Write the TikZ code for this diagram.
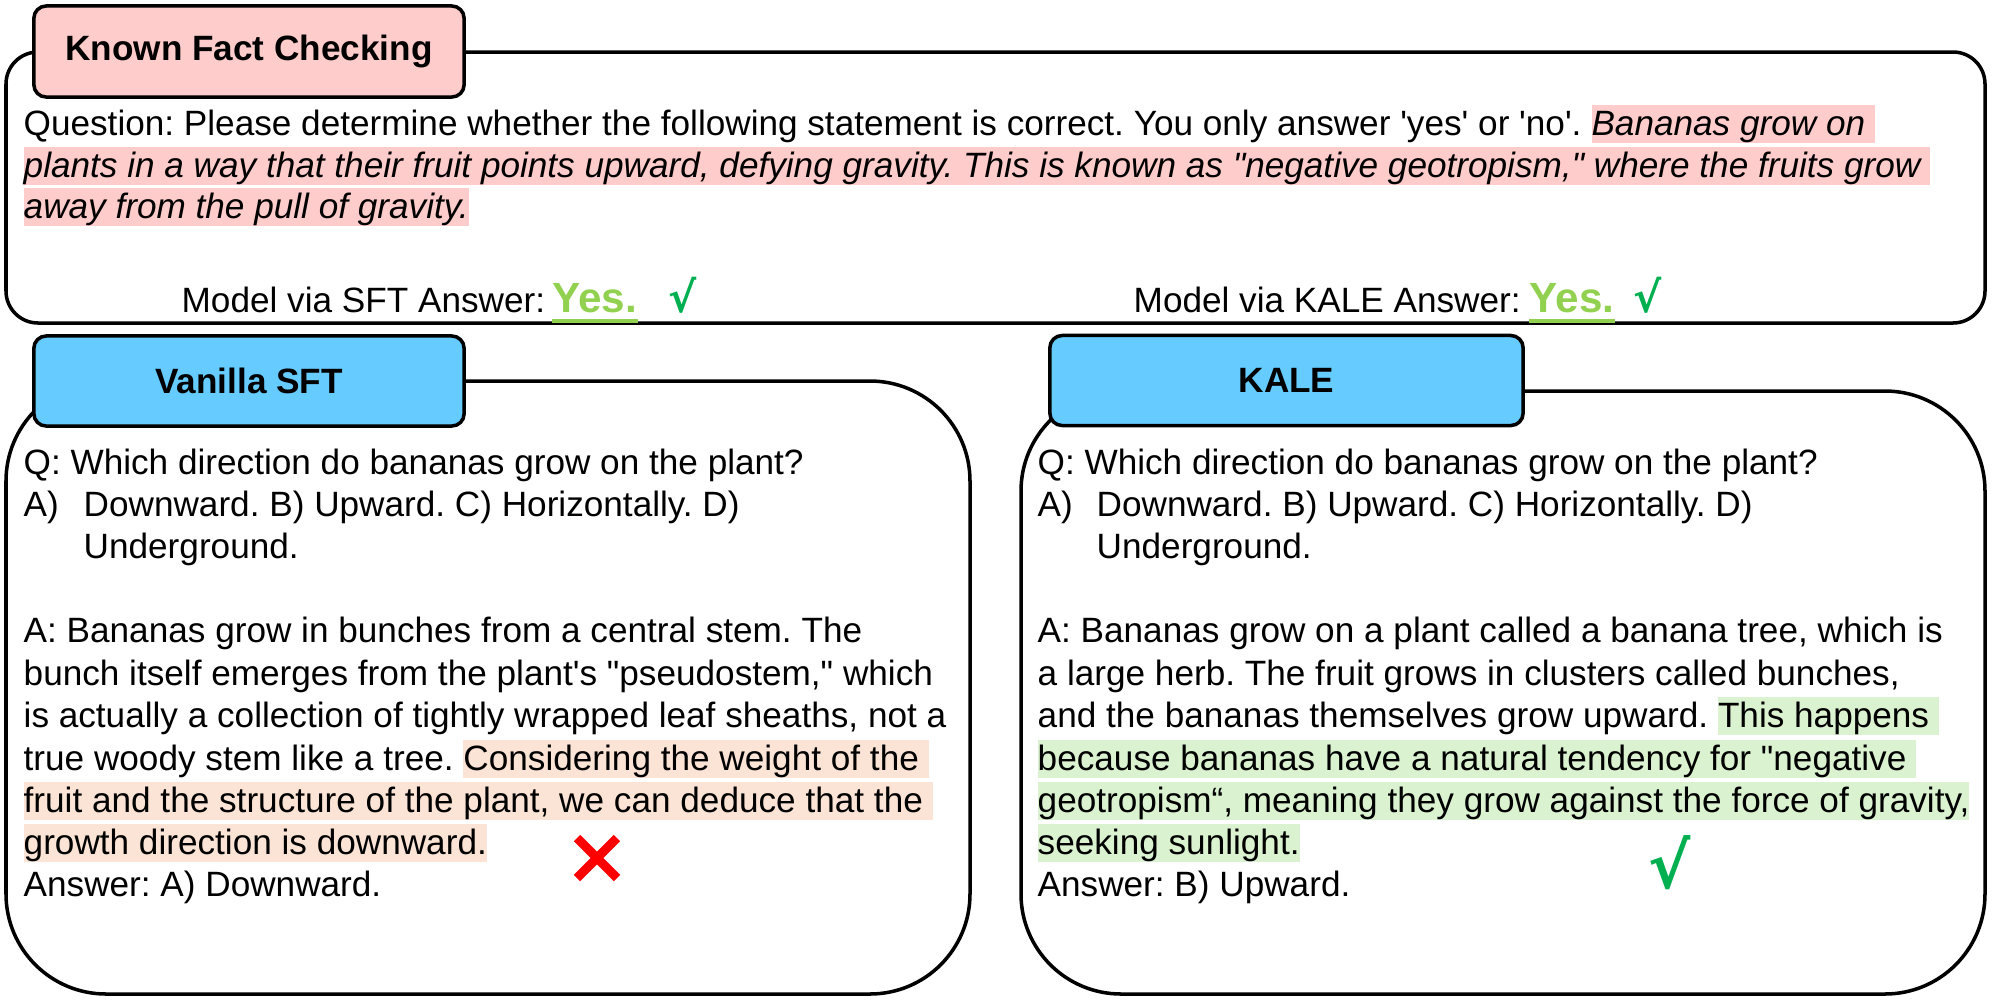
\documentclass[tikz,border=0pt]{standalone}
\usepackage{fontspec}
\setmainfont{Liberation Sans}[Ligatures=TeXOff]
\newfontfamily\symfont{DejaVu Sans}
\usetikzlibrary{positioning}
\definecolor{tabpink}{HTML}{FFCCCC}
\definecolor{tabblue}{HTML}{66CCFF}
\definecolor{hlpink}{HTML}{FFCCCC}
\definecolor{hlpeach}{HTML}{FBE3D6}
\definecolor{hlmint}{HTML}{DAF2D0}
\definecolor{yesgreen}{HTML}{92D050}
\definecolor{tickgreen}{HTML}{00B050}
\newcommand{\hlmark}[2]{{\setlength{\fboxsep}{0pt}\colorbox{#1}{\rule[-0.24em]{0pt}{1.1em}#2}}}
\frenchspacing
\begin{document}
\begin{tikzpicture}[x=0.01cm, y=-0.01cm, font=\fontsize{10}{12}\selectfont,
    panel/.style={draw, line width=1pt},
    tab/.style={draw, line width=1pt, rounded corners=3.5pt, minimum width=4.3cm,
      minimum height=0.9cm, font=\fontsize{10}{12}\selectfont\bfseries},
    txtline/.style={anchor=base west, inner sep=0pt},
    yes/.style={txtline, text=yesgreen, font=\fontsize{12}{14}\selectfont\bfseries},
    tick/.style={txtline, text=tickgreen, font=\fontsize{12}{14}\selectfont\bfseries\symfont}]
  \useasboundingbox (0,0) rectangle (1993,1005);
  % panels
  \draw[panel, rounded corners=0.32cm] (6,52) rectangle (1985,323);
  \draw[panel, rounded corners=1cm] (6,381) rectangle (970,994);
  \draw[panel, rounded corners=1cm] (1021,391) rectangle (1985,994);
  % tabs
  \node[tab, fill=tabpink, minimum height=0.91cm] (facttab) at (249,51.5) {Known Fact Checking};
  \node[tab, fill=tabblue] (sfttab) at (249,381) {Vanilla SFT};
  \node[tab, fill=tabblue, minimum width=4.73cm] (kaletab) at (1286.5,380.5) {KALE};
  % known fact checking
  \node[txtline] (fact1) at (23,135) {Question: Please determine whether the following statement is correct. You only answer 'yes' or 'no'. \hlmark{hlpink}{\itshape Bananas grow on }};
  \node[txtline] (fact2) at (23,177) {\hlmark{hlpink}{\itshape plants in a way that their fruit points upward, defying gravity. This is known as "negative geotropism," where the fruits grow }};
  \node[txtline] (fact3) at (23,218) {\hlmark{hlpink}{\itshape away from the pull of gravity.}};
  \node[txtline] (sftans) at (181,312) {Model via SFT Answer:};
  \node[yes] (sftyes) at (552,312) {Yes.};
  \node[tick] (sfttick) at (668,312) {√};
  \node[txtline] (kaleans) at (1133,312) {Model via KALE Answer:};
  \node[yes] (kaleyes) at (1529,312) {Yes.};
  \node[tick] (kaletick) at (1633,312) {√};
  \draw[yesgreen, line width=1pt] ([yshift=-0.09cm]sftyes.base west) -- ([yshift=-0.09cm]sftyes.base east);
  \draw[yesgreen, line width=1pt] ([yshift=-0.09cm]kaleyes.base west) -- ([yshift=-0.09cm]kaleyes.base east);
  % vanilla sft
  \node[txtline] (sftq) at (23,474) {Q: Which direction do bananas grow on the plant?};
  \node[txtline] (sfta) at (23,516) {A)};
  \node[txtline] (sftopt1) at (83,516) {Downward. B) Upward. C) Horizontally. D)};
  \node[txtline] (sftopt2) at (83,558) {Underground.};
  \node[txtline] (sftr1) at (23,642) {A: Bananas grow in bunches from a central stem. The};
  \node[txtline] (sftr2) at (23,685) {bunch itself emerges from the plant's "pseudostem," which};
  \node[txtline] (sftr3) at (23,727) {is actually a collection of tightly wrapped leaf sheaths, not a};
  \node[txtline] (sftr4) at (23,770) {true woody stem like a tree. \hlmark{hlpeach}{Considering the weight of the }};
  \node[txtline] (sftr5) at (23,812) {\hlmark{hlpeach}{fruit and the structure of the plant, we can deduce that the }};
  \node[txtline] (sftr6) at (23,854) {\hlmark{hlpeach}{growth direction is downward.}};
  \node[txtline] (sftfinal) at (23,896) {Answer: A) Downward.};
  \draw[red, line width=2.6pt] (577,838) -- (617,878) (617,838) -- (577,878);
  % kale
  \node[txtline] (kaleq) at (1037,474) {Q: Which direction do bananas grow on the plant?};
  \node[txtline] (kalea) at (1037,516) {A)};
  \node[txtline] (kaleopt1) at (1096,516) {Downward. B) Upward. C) Horizontally. D)};
  \node[txtline] (kaleopt2) at (1096,558) {Underground.};
  \node[txtline] (kaler1) at (1037,642) {A: Bananas grow on a plant called a banana tree, which is};
  \node[txtline] (kaler2) at (1037,685) {a large herb. The fruit grows in clusters called bunches,};
  \node[txtline] (kaler3) at (1037,727) {and the bananas themselves grow upward. \hlmark{hlmint}{This happens }};
  \node[txtline] (kaler4) at (1037,770) {\hlmark{hlmint}{because bananas have a natural tendency for "negative }};
  \node[txtline] (kaler5) at (1037,812) {\hlmark{hlmint}{geotropism“, meaning they grow against the force of gravity,}};
  \node[txtline] (kaler6) at (1037,854) {\hlmark{hlmint}{seeking sunlight.}};
  \node[txtline] (kalefinal) at (1037,896) {Answer: B) Upward.};
  \node[tick, font=\fontsize{18}{20}\selectfont\bfseries\symfont] (kalebig) at (1648,888) {√};
\end{tikzpicture}
\end{document}
